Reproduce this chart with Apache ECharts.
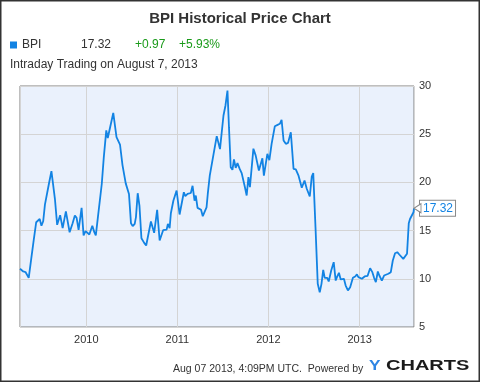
<!DOCTYPE html>
<html><head><meta charset="utf-8">
<script src="https://cdn.jsdelivr.net/npm/echarts@6/dist/echarts.min.js"></script>
<style>html,body{margin:0;padding:0;background:#fff}#c{width:480px;height:382px}</style>
</head><body><div id="c"></div>
<script>
const titleText = 'BPI Historical Price Chart';
const seriesName = 'BPI';
const lastPrice = '17.32';
const change = '+0.97';
const changePct = '+5.93%';
const subtitle = 'Intraday Trading on August 7, 2013';
const footer = 'Aug 07 2013, 4:09PM UTC.  Powered by';
const yTicks = [5,10,15,20,25,30];
const dates = [
'2009-04-10','2009-04-23','2009-05-02','2009-05-15','2009-05-25','2009-06-04','2009-06-14','2009-06-22','2009-06-28','2009-07-05',
'2009-07-12','2009-07-19','2009-07-25','2009-08-04','2009-08-14','2009-08-28','2009-09-06','2009-09-18','2009-09-28','2009-10-11',
'2009-10-18','2009-10-26','2009-11-07','2009-11-16','2009-11-23','2009-12-01','2009-12-06','2009-12-13','2009-12-21','2009-12-29',
'2010-01-05','2010-01-13','2010-01-25','2010-02-02','2010-02-08','2010-02-16','2010-02-22','2010-03-04','2010-03-12','2010-03-22',
'2010-03-28','2010-04-05','2010-04-19','2010-05-02','2010-05-09','2010-05-16','2010-05-26','2010-05-31','2010-06-08','2010-06-15',
'2010-06-21','2010-06-29','2010-07-06','2010-07-14','2010-07-19','2010-07-26','2010-08-02','2010-08-10','2010-08-21','2010-08-29',
'2010-09-05','2010-09-17','2010-09-30','2010-10-12','2010-10-22','2010-10-27','2010-11-05','2010-11-19','2010-11-24','2010-12-01',
'2010-12-06','2010-12-16','2010-12-29',
'2011-01-10','2011-01-18','2011-01-27','2011-02-02','2011-02-11','2011-02-17','2011-02-24','2011-03-03','2011-03-11','2011-03-16',
'2011-03-23','2011-03-29','2011-04-06','2011-04-13','2011-04-20','2011-04-28','2011-05-03','2011-05-11','2011-05-19','2011-05-26',
'2011-06-08','2011-06-21','2011-06-28','2011-07-05','2011-07-13','2011-07-21','2011-07-27','2011-08-03','2011-08-10','2011-08-16',
'2011-08-23','2011-08-30','2011-09-08','2011-09-16','2011-09-21','2011-09-29','2011-10-06','2011-10-13','2011-10-19','2011-11-02',
'2011-11-11','2011-11-24','2011-12-08','2011-12-14','2011-12-28',
'2012-01-05','2012-01-14','2012-01-27','2012-02-07','2012-02-16','2012-02-23','2012-03-02','2012-03-11','2012-03-20','2012-03-31',
'2012-04-11','2012-04-20','2012-05-01','2012-05-14','2012-05-25','2012-06-03','2012-06-15','2012-06-23','2012-06-29','2012-07-08',
'2012-07-17','2012-07-25','2012-08-01','2012-08-08','2012-08-14','2012-08-24','2012-08-30','2012-09-09','2012-09-19','2012-09-27',
'2012-10-02','2012-10-10','2012-10-17','2012-10-25','2012-10-30','2012-11-06','2012-11-15','2012-11-24','2012-12-05','2012-12-14',
'2012-12-21','2012-12-27',
'2013-01-03','2013-01-10','2013-01-21','2013-02-02','2013-02-12','2013-02-21','2013-02-28','2013-03-07','2013-03-15','2013-03-21',
'2013-03-31','2013-04-09','2013-04-17','2013-04-26','2013-05-06','2013-05-14','2013-05-23','2013-06-01','2013-06-09','2013-06-16',
'2013-06-25','2013-07-03','2013-07-10','2013-07-17','2013-07-22','2013-07-29','2013-08-05','2013-08-07'
];
const prices = [
11.04,10.76,10.7,10.1,12.07,14.0,15.87,15.94,16.2,15.5,
15.97,17.7,17.9,19.86,21.16,18.3,15.6,16.6,15.25,17.0,
16.8,14.83,15.77,16.57,16.33,15.08,15.2,17.36,14.5,14.94,
14.9,14.6,15.5,14.84,14.5,16.29,16.4,19.86,22.6,25.4,
24.6,24.45,27.2,24.7,24.7,23.93,21.8,21.75,19.9,19.8,
18.8,15.77,15.46,15.7,16.4,18.88,17.6,14.2,13.73,13.45,
13.45,15.94,14.77,17.16,13.97,14.07,15.04,15.1,15.7,15.25,
16.8,18.1,19.16,
16.67,16.77,18.98,18.57,18.8,18.9,18.9,19.65,18.1,18.64,
17.36,17.26,17.16,16.5,16.57,17.4,18.8,20.7,20.9,22.9,
24.8,23.45,23.55,26.94,27.98,29.53,25.73,21.58,21.3,22.38,
21.5,22.0,21.4,20.96,20.9,19.5,18.64,20.54,19.5,23.5,
22.8,21.23,22.5,20.7,22.97,
22.3,24.0,25.83,25.97,26.08,26.5,24.35,24.0,24.1,25.2,
21.4,21.34,20.7,19.44,20.2,19.34,18.54,20.6,20.96,15.35,
9.48,8.61,9.48,10.93,10.1,10.1,9.72,10.86,11.72,9.82,
10.17,10.62,9.93,9.82,10.0,9.3,8.79,9.13,10.1,10.24,
10.45,10.17,
10.27,10.0,10.24,10.31,11.1,10.69,10.1,9.65,10.76,10.34,
9.82,10.34,10.17,10.52,10.69,11.9,12.65,12.76,12.52,12.49,
12.07,11.97,12.6,15.77,16.2,16.1,16.9,17.32
];

const BLUE = '#1283e3';
const FONT = '"Liberation Sans", Arial, sans-serif';
const YEAR = 365 * 24 * 3600 * 1000;
const last = dates.length - 1;
const chart = echarts.init(document.getElementById('c'), null, {renderer:'canvas'});
chart.setOption({
  animation:false,
  backgroundColor:'#fff',
  textStyle:{fontFamily:FONT},
  title:{text:titleText,left:'center',top:6,textStyle:{fontSize:15,fontWeight:'bold',color:'#333',fontFamily:FONT}},
  legend:{
    left:10, top:39, padding:0, icon:'rect', itemWidth:7, itemHeight:7, itemGap:0,
    data:[seriesName],
    formatter: n => '{n|'+n+'}{v|'+lastPrice+'}{c|'+change+'}{p|'+changePct+'}',
    textStyle:{fontSize:12,color:'#333',
      rich:{
        n:{width:59,fontSize:12,color:'#333'},
        v:{width:54,fontSize:12,color:'#333'},
        c:{width:44,fontSize:12,color:'#1a9a1a'},
        p:{fontSize:12,color:'#1a9a1a'}
      }}
  },
  grid:{left:20,top:86,width:394,height:241,show:true,backgroundColor:'#eaf1fc',borderColor:'#7f7f7f',borderWidth:1},
  xAxis:{
    type:'time',
    min:'2009-04-10', max:'2013-08-07',
    minInterval: YEAR, maxInterval: YEAR * 1.1,
    axisLine:{show:false},
    axisTick:{show:false},
    axisLabel:{formatter: v => String(new Date(v).getFullYear()), color:'#333', fontSize:11, margin:7, fontWeight:'normal'},
    splitLine:{show:true, lineStyle:{color:'#d4d4d4',width:1}}
  },
  yAxis:{
    type:'value', position:'right', min:yTicks[0], max:yTicks[yTicks.length-1], interval:5,
    axisLine:{show:false}, axisTick:{show:false},
    axisLabel:{color:'#333',fontSize:11,margin:5},
    splitLine:{show:true,lineStyle:{color:'#d4d4d4',width:1}}
  },
  series:[{
    name:seriesName, type:'line', showSymbol:false, symbol:'none',
    data: dates.map((d,i)=>[d,prices[i]]),
    lineStyle:{color:BLUE,width:1.8}, itemStyle:{color:BLUE},
    endLabel:{show:true, formatter: lastPrice, color:BLUE, fontSize:12, backgroundColor:'#fff',
      borderColor:'#888', borderWidth:1, padding:[2,2,1,3], distance:6},
    markPoint:{
      silent:true, label:{show:false}, z:10,
      symbol:'path://M0,4 L7,0 L7,8 Z', symbolSize:[7,9], symbolOffset:[3.5,0],
      itemStyle:{color:'#fff',borderColor:'#888',borderWidth:1},
      data:[{coord:[dates[last], prices[last]]}]
    }
  }],
  graphic:[
    {type:'rect',shape:{x:0.5,y:0.5,width:479,height:381},style:{fill:'none',stroke:'#333',lineWidth:2},silent:true,z:100},
    {type:'text',left:10,top:59,style:{text:subtitle,fill:'#333',font:'12px '+FONT}},
    {type:'text',x:173,y:369,style:{text:footer,fill:'#333',font:'10.5px '+FONT,textVerticalAlign:'middle'}},
    {type:'text',x:369,y:366,scaleX:1.15,style:{text:'Y',fill:'#2f86e4',font:'bold 15px '+FONT,textVerticalAlign:'middle'}},
    {type:'text',x:386,y:366,scaleX:1.43,style:{text:'CHARTS',fill:'#1a1a1a',font:'bold 14px '+FONT,textVerticalAlign:'middle'}}
  ]
});
</script></body></html>
